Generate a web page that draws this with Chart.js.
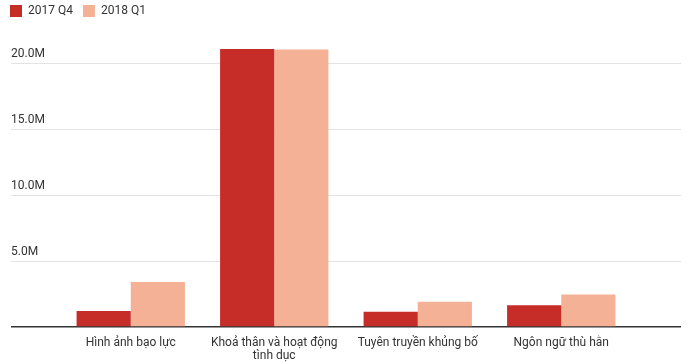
<!doctype html>
<html>

<head>
    <meta charset="utf-8">
    <title>Bieu do</title>
    <script src="https://cdn.jsdelivr.net/npm/chart.js"></script>
    <style>
        body { margin: 0; background: #fff; }
        #khung { width: 700px; height: 363px; }
    </style>
</head>

<body>
    <div id="khung">
        <canvas id="bieuDo"></canvas>
    </div>

    <script>
        var danhMuc = ['Hình ảnh bạo lực', ['Khoả thân và hoạt động', 'tình dục'], 'Tuyên truyền khủng bố', 'Ngôn ngữ thù hằn'];
        var quy4_2017 = [1210000, 21080000, 1160000, 1640000];
        var quy1_2018 = [3410000, 21050000, 1920000, 2470000];
        var giaTriTruc = [0, 5000000, 10000000, 15000000, 20000000];
        var nhanTruc = ['', '5.0M', '10.0M', '15.0M', '20.0M'];

        var TRUC_MAX = 22750000;
        var mauChu = '#333333';

        function mauLuoi(ctx) {
            return ctx.tick && ctx.tick.value === 0 ? '#333333' : '#e3e3e3';
        }
        function doDayLuoi(ctx) {
            return ctx.tick && ctx.tick.value === 0 ? 1.6 : 1;
        }
        function datTick(scale) {
            scale.ticks = giaTriTruc.map(v => ({ value: v }));
        }

        Chart.defaults.font.family = 'Roboto, "Noto Sans", sans-serif';
        Chart.defaults.font.size = 12;
        Chart.defaults.color = mauChu;

        var bieuDo = new Chart(document.getElementById('bieuDo').getContext('2d'), {
            type: 'bar',
            data: {
                labels: danhMuc,
                datasets: [{
                    label: '2017 Q4',
                    backgroundColor: '#c62d29',
                    data: quy4_2017,
                    yAxisID: 'y'
                }, {
                    label: '2018 Q1',
                    backgroundColor: '#f4b195',
                    data: quy1_2018,
                    yAxisID: 'y'
                }]
            },
            options: {
                responsive: true,
                maintainAspectRatio: false,
                animation: false,
                categoryPercentage: 0.755,
                barPercentage: 1.0,
                layout: {
                    padding: { top: -5, left: 0, right: 19, bottom: 0 }
                },
                plugins: {
                    legend: {
                        position: 'top',
                        align: 'start',
                        labels: {
                            boxWidth: 12,
                            boxHeight: 12,
                            padding: 10,
                            color: mauChu,
                            font: { size: 12 }
                        }
                    },
                    tooltip: { enabled: false }
                },
                scales: {
                    x: {
                        type: 'category',
                        offset: true,
                        grid: { display: false },
                        border: { display: false },
                        afterFit: function (scale) { scale.height = 36; },
                        ticks: {
                            padding: 1,
                            maxRotation: 0,
                            autoSkip: false,
                            color: mauChu,
                            font: { size: 12, lineHeight: 1.12 }
                        }
                    },
                    lechTrai: {
                        type: 'linear',
                        position: 'left',
                        weight: 1,
                        grid: { display: false },
                        border: { display: false },
                        ticks: { display: false },
                        afterFit: function (scale) { scale.width = 11; }
                    },
                    y: {
                        type: 'linear',
                        position: 'left',
                        weight: 0,
                        min: 0,
                        max: TRUC_MAX,
                        afterBuildTicks: datTick,
                        afterFit: function (scale) { scale.width = 48; },
                        border: { display: false },
                        grid: {
                            color: mauLuoi,
                            lineWidth: doDayLuoi,
                            drawTicks: true,
                            tickLength: 48
                        },
                        ticks: {
                            autoSkip: false,
                            crossAlign: 'far',
                            labelOffset: -9,
                            color: mauChu,
                            font: { size: 12 },
                            callback: function (value) {
                                return nhanTruc[giaTriTruc.indexOf(value)] || '';
                            }
                        }
                    },
                    yPhai: {
                        type: 'linear',
                        position: 'right',
                        min: 0,
                        max: TRUC_MAX,
                        afterBuildTicks: datTick,
                        afterFit: function (scale) { scale.width = 48; },
                        border: { display: false },
                        grid: {
                            color: mauLuoi,
                            lineWidth: doDayLuoi,
                            drawOnChartArea: false,
                            drawTicks: true,
                            tickLength: 48
                        },
                        ticks: { display: false, autoSkip: false }
                    }
                }
            }
        });
    </script>
</body>

</html>
